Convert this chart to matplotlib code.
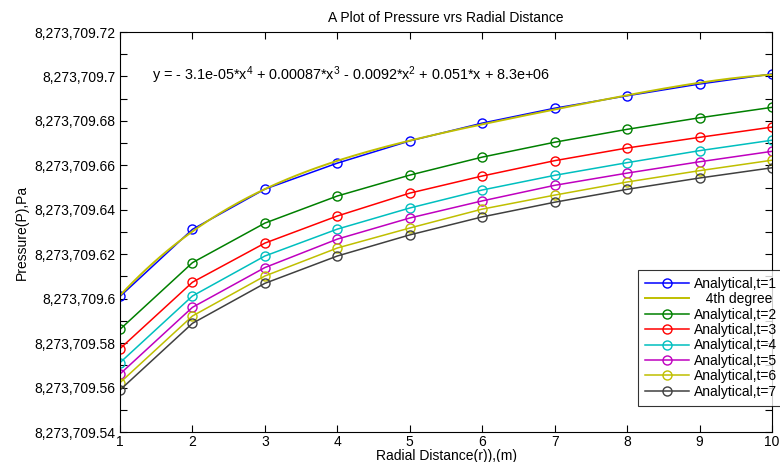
import numpy as np
import matplotlib
matplotlib.use("Agg")
import matplotlib.pyplot as plt
from matplotlib.ticker import FuncFormatter, FixedLocator

plt.rcParams['font.family'] = ['Liberation Sans', 'DejaVu Sans']
plt.rcParams['mathtext.fontset'] = 'custom'
plt.rcParams['mathtext.rm'] = 'Liberation Sans'
plt.rcParams['mathtext.it'] = 'Liberation Sans:italic'

base = 8273709.0
r = [1, 2, 3, 4, 5, 6, 7, 8, 9, 10]
p_t1 = [0.6010, 0.6312, 0.6493, 0.6610, 0.6710, 0.6790, 0.6857, 0.6913, 0.6966, 0.7011]
p_t2 = [0.5862, 0.6162, 0.6340, 0.6462, 0.6556, 0.6637, 0.6704, 0.6762, 0.6814, 0.6861]
p_t3 = [0.5775, 0.6074, 0.6250, 0.6372, 0.6475, 0.6552, 0.6621, 0.6678, 0.6726, 0.6772]
p_t4 = [0.5712, 0.6012, 0.6192, 0.6313, 0.6408, 0.6489, 0.6555, 0.6612, 0.6666, 0.6713]
p_t5 = [0.5661, 0.5961, 0.6140, 0.6268, 0.6363, 0.6440, 0.6510, 0.6565, 0.6616, 0.6663]
p_t6 = [0.5622, 0.5922, 0.6102, 0.6228, 0.6318, 0.6403, 0.6466, 0.6525, 0.6576, 0.6623]
p_t7 = [0.5589, 0.5889, 0.6069, 0.6192, 0.6287, 0.6368, 0.6434, 0.6492, 0.6543, 0.6589]

series = [("Analytical,t=1", p_t1, (0, 0, 1)),
          ("Analytical,t=2", p_t2, (0, 0.5, 0)),
          ("Analytical,t=3", p_t3, (1, 0, 0)),
          ("Analytical,t=4", p_t4, (0, 0.75, 0.75)),
          ("Analytical,t=5", p_t5, (0.75, 0, 0.75)),
          ("Analytical,t=6", p_t6, (0.75, 0.75, 0)),
          ("Analytical,t=7", p_t7, (0.25, 0.25, 0.25))]
fit_label = "   4th degree"
fit_color = (0.75, 0.75, 0)

yticks_major = [0.54, 0.56, 0.58, 0.60, 0.62, 0.64, 0.66, 0.68, 0.70, 0.72]
yticks_minor = [0.55, 0.57, 0.59, 0.61, 0.63, 0.65, 0.67, 0.69, 0.71]
xticks = [1, 2, 3, 4, 5, 6, 7, 8, 9, 10]

fig = plt.figure(figsize=(7.8, 4.62), dpi=100)
ax = fig.add_axes([120/780, 1-432/462, (772-120)/780, 400/462])

x = np.array(r, dtype=float)
lw = 1.1
ms = 6.5

def plot_series(label, vals, color):
    ax.plot(x, base + np.array(vals), color=color, lw=lw, marker='o', ms=ms,
            mfc='none', mec=color, mew=1.0, label=label)

# t=1 first, then fit, then others
plot_series(*series[0])
coef = np.polyfit(x, np.array(p_t1), 4)
xf = np.linspace(1, 10, 200)
ax.plot(xf, base + np.polyval(coef, xf), color=fit_color, lw=1.4, label=fit_label)
for s in series[1:]:
    plot_series(*s)

ax.set_xlim(1, 10)
ax.set_ylim(base + 0.54, base + 0.72)
ax.xaxis.set_major_locator(FixedLocator(xticks))
ax.yaxis.set_major_locator(FixedLocator([base + v for v in yticks_major]))
ax.yaxis.set_minor_locator(FixedLocator([base + v for v in yticks_minor]))

def fmt(v, pos):
    s = f"{v:,.2f}".rstrip('0').rstrip('.')
    return s
ax.yaxis.set_major_formatter(FuncFormatter(fmt))
ax.tick_params(axis='both', which='both', direction='in', top=True, right=True,
               labelsize=10, colors='black')
ax.tick_params(which='major', length=5, width=0.8)
ax.tick_params(which='minor', length=5, width=0.8)
ax.tick_params(axis='x', pad=2)
for sp in ax.spines.values():
    sp.set_linewidth(0.8)

ax.set_title("A Plot of Pressure vrs Radial Distance", fontsize=10, pad=7)
ax.set_xlabel("Radial Distance(r)),(m)", fontsize=10, labelpad=0)
ax.set_ylabel("Pressure(P),Pa", fontsize=10, labelpad=4)

ax.text(152/780, 1-75/462,
        "y = - 3.1e-05*x$^4$ + 0.00087*x$^3$ - 0.0092*x$^2$ + 0.051*x + 8.3e+06",
        transform=fig.transFigure, fontsize=10.4, va='center', ha='left')

leg = fig.legend(loc='upper left', bbox_to_anchor=(638/780, 1-270/462),
                 fontsize=10, handlelength=3.15, labelspacing=0.1,
                 borderpad=0.5, handletextpad=0.4, borderaxespad=0,
                 fancybox=False, frameon=True, edgecolor='black')
leg.get_frame().set_linewidth(0.8)

fig.savefig("out.png", dpi=100)
